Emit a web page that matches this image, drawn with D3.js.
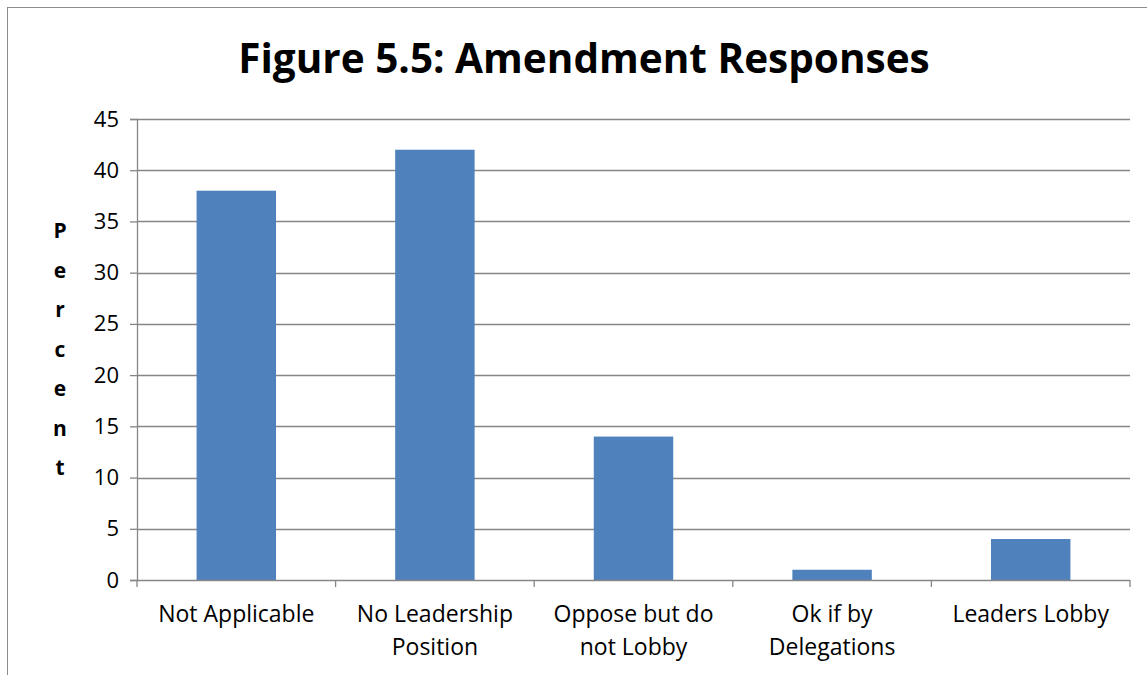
<!DOCTYPE html>
<html>
<head>
<meta charset="utf-8">
<script src="https://cdnjs.cloudflare.com/ajax/libs/d3/7.8.5/d3.min.js"></script>
<style>
  html, body { margin: 0; padding: 0; background: #fff; }
  svg { display: block; font-family: "Open Sans", Lato, sans-serif; }
</style>
</head>
<body>
<div id="chart"></div>
<script>
const categories = [
  ['Not Applicable'],
  ['No Leadership', 'Position'],
  ['Oppose but do', 'not Lobby'],
  ['Ok if by', 'Delegations'],
  ['Leaders Lobby']
];
const values = [38, 42, 14, 1, 4];
const yTicks = [0, 5, 10, 15, 20, 25, 30, 35, 40, 45];
const title = 'Figure 5.5: Amendment Responses';
const yLabel = 'Percent';

const W = 1147, H = 675;
const margin = { top: 119, right: 17, bottom: 95, left: 137 };
const width = W - margin.left - margin.right;
const height = H - margin.top - margin.bottom;

const svg = d3.select('#chart').append('svg')
  .attr('width', W)
  .attr('height', H);

// outer frame
svg.append('rect')
  .attr('x', 7.5).attr('y', 7.5)
  .attr('width', W - 4).attr('height', H)
  .attr('fill', 'none')
  .attr('stroke', '#8c8c8c')
  .attr('stroke-width', 1);

svg.append('text')
  .attr('x', 584).attr('y', 73)
  .attr('text-anchor', 'middle')
  .attr('font-size', 40.5)
  .attr('font-weight', 'bold')
  .attr('fill', '#000')
  .text(title);

const g = svg.append('g').attr('transform', `translate(${margin.left},${margin.top})`);

const keys = categories.map(d => d.join(' '));
const x = d3.scaleBand().domain(keys).range([0, width]).paddingInner(0.6).paddingOuter(0.3);
const xb = d3.scaleBand().domain(keys).range([0, width]);
const y = d3.scaleLinear().domain([0, 45]).range([height, 0]);

// gridlines
g.append('g')
  .selectAll('line')
  .data(yTicks.filter(d => d > 0))
  .join('line')
  .attr('x1', 0).attr('x2', width)
  .attr('y1', d => Math.round(y(d)) + 0.5)
  .attr('y2', d => Math.round(y(d)) + 0.5)
  .attr('stroke', '#868686')
  .attr('stroke-width', 1.3);

// y axis
const yAxis = g.append('g')
  .call(d3.axisLeft(y).tickValues(yTicks).tickSize(7).tickPadding(11))
  .call(a => a.select('.domain').attr('stroke', '#868686').attr('stroke-width', 1.3))
  .call(a => a.selectAll('.tick line').attr('stroke', '#868686').attr('stroke-width', 1.3));
yAxis.selectAll('text')
  .attr('font-size', 22)
  .attr('font-family', '"Open Sans", Lato, sans-serif')
  .attr('fill', '#000');

// bars
g.append('g')
  .selectAll('rect')
  .data(values)
  .join('rect')
  .attr('x', (d, i) => x(keys[i]))
  .attr('width', x.bandwidth())
  .attr('y', d => y(d))
  .attr('height', d => height - y(d))
  .attr('fill', '#4f81bd');

// x axis
const xAxis = g.append('g')
  .attr('transform', `translate(0,${height})`);
xAxis.append('line')
  .attr('x1', 0).attr('x2', width)
  .attr('y1', 0.5).attr('y2', 0.5)
  .attr('stroke', '#868686').attr('stroke-width', 1.3);
xAxis.selectAll('line.tk')
  .data(d3.range(keys.length + 1))
  .join('line')
  .attr('class', 'tk')
  .attr('x1', i => i * xb.step()).attr('x2', i => i * xb.step())
  .attr('y1', 0).attr('y2', 7)
  .attr('stroke', '#868686').attr('stroke-width', 1.3);

xAxis.selectAll('text.lab')
  .data(categories)
  .join('text')
  .attr('class', 'lab')
  .attr('x', (d, i) => xb(keys[i]) + xb.bandwidth() / 2)
  .attr('y', 42)
  .attr('text-anchor', 'middle')
  .attr('font-size', 23)
  .attr('fill', '#000')
  .selectAll('tspan')
  .data(d => d)
  .join('tspan')
  .attr('x', function () { return this.parentNode.getAttribute('x'); })
  .attr('dy', (d, i) => i === 0 ? 0 : 33)
  .text(d => d);

// stacked y label
svg.append('g')
  .selectAll('text')
  .data(yLabel.split(''))
  .join('text')
  .attr('x', 60)
  .attr('y', (d, i) => 238 + i * 39.5)
  .attr('text-anchor', 'middle')
  .attr('font-size', 21)
  .attr('font-weight', 'bold')
  .attr('fill', '#000')
  .text(d => d);
</script>
</body>
</html>
